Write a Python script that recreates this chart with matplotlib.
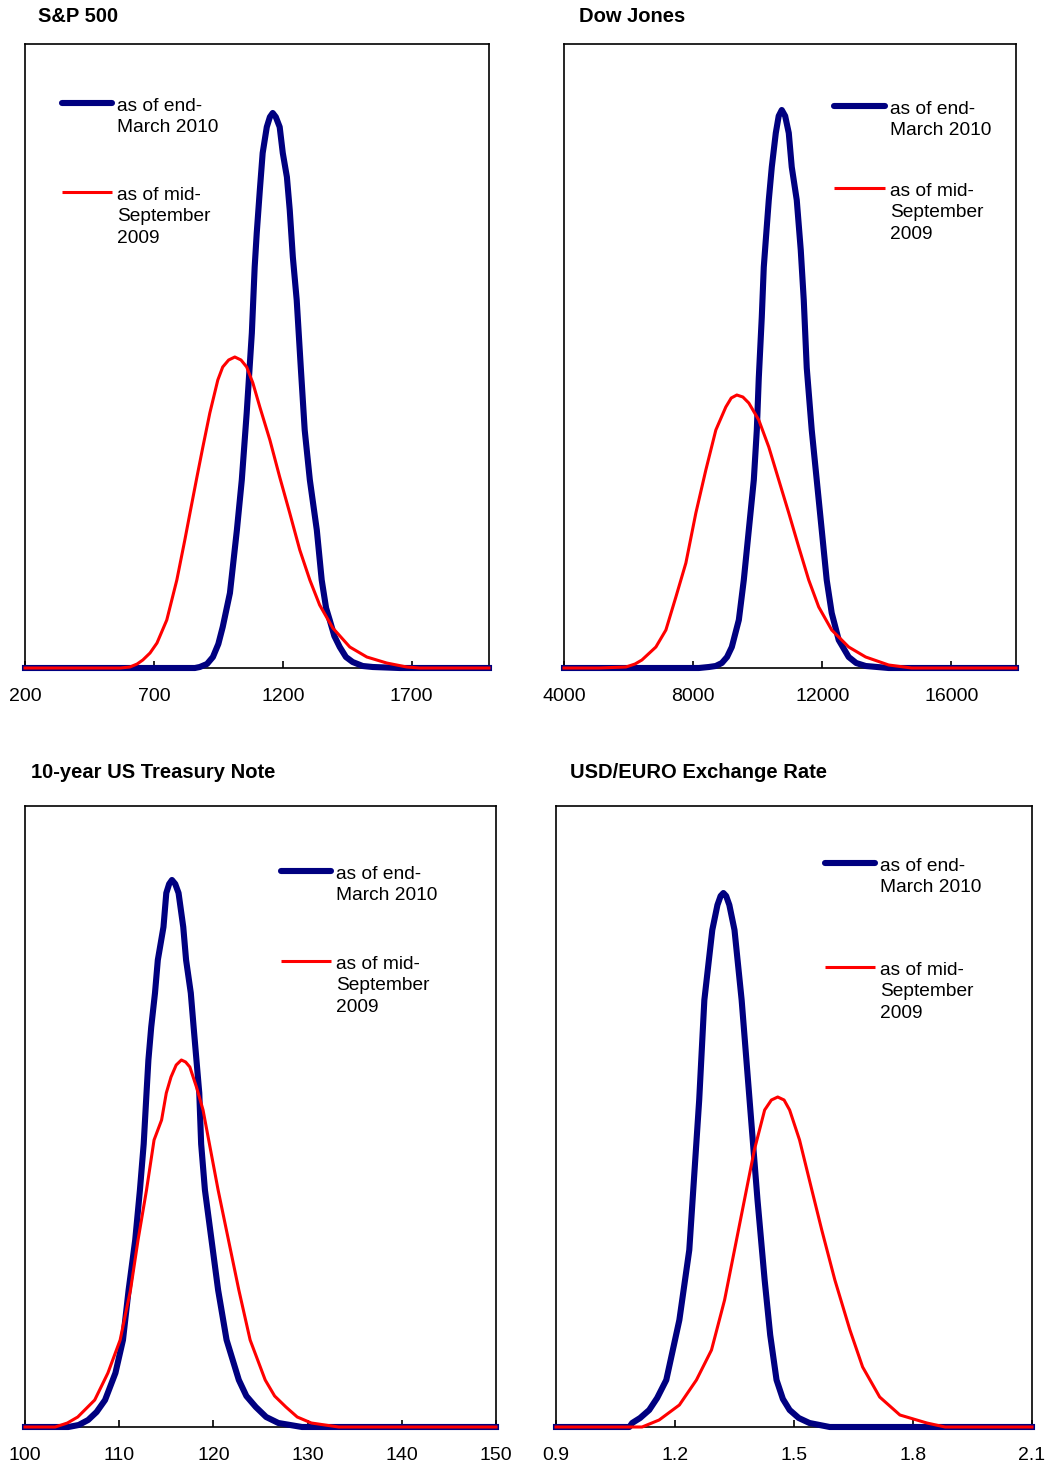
import matplotlib
matplotlib.use("Agg")
import matplotlib.pyplot as plt

plt.rcParams['font.family'] = ['Liberation Sans', 'DejaVu Sans']

# density curves (heights in relative units)
# S&P 500
spx_end_x = [200, 859, 878, 906, 929, 950, 967, 995, 1022, 1041, 1060, 1080, 1091, 1099, 1111,
             1122, 1138, 1150, 1161, 1173, 1188, 1200, 1216, 1227, 1239, 1254, 1270, 1285,
             1305, 1332, 1351, 1368, 1382, 1400, 1421, 1445, 1471, 1510, 1549, 1653, 2000]
spx_end_y = [0, 0, 1, 4, 11, 24, 41, 75, 138, 188, 255, 335, 401, 435, 478,
             515, 541, 551, 555, 551, 541, 515, 491, 458, 411, 368, 300, 238,
             188, 138, 88, 60, 48, 32, 21, 11, 6, 2, 1, 0, 0]
spx_sep_x = [200, 491, 570, 607, 635, 657, 685, 712, 750, 789, 820, 840, 867, 890, 917, 948,
             967, 990, 1014, 1038, 1060, 1084, 1111, 1150, 1188, 1227, 1266, 1305, 1343, 1394,
             1460, 1526, 1603, 1681, 1731, 2000]
spx_sep_y = [0, 0, 0, 1, 4, 8, 15, 25, 48, 88, 128, 155, 191, 221, 255, 288,
             301, 308, 311, 308, 301, 285, 261, 228, 191, 155, 118, 88, 63, 40,
             21, 11, 5, 1, 0, 0]

# Dow Jones
dow_end_x = [4000, 8177, 8486, 8700, 8889, 9050, 9198, 9415, 9569, 9724, 9879, 9972, 10033,
             10126, 10188, 10250, 10343, 10436, 10560, 10650, 10745, 10850, 10962, 11054, 11209,
             11333, 11426, 11519, 11673, 11828, 11983, 12137, 12292, 12509, 12818, 13050, 13344,
             14056, 18000]
dow_end_y = [0, 0, 1, 2, 5, 11, 21, 48, 88, 138, 188, 238, 290,
             351, 401, 428, 468, 501, 535, 552, 558, 552, 535, 501, 468,
             418, 368, 300, 238, 188, 138, 88, 55, 28, 11, 5, 2,
             0, 0]
dow_sep_x = [4000, 5083, 5918, 6200, 6413, 6846, 7156, 7465, 7775, 8084, 8393, 8703, 9012, 9180,
             9353, 9540, 9724, 10033, 10343, 10652, 10962, 11271, 11580, 11890, 12292, 12818,
             13344, 14056, 14767, 18000]
dow_sep_y = [0, 0, 1, 4, 8, 21, 38, 71, 105, 155, 198, 238, 261, 270,
             273, 271, 265, 248, 221, 188, 155, 121, 88, 61, 38, 21,
             11, 3, 0, 0]

# 10-year US Treasury Note
ust_end_x = [100, 104.6, 105.7, 106.7, 107.6, 108.5, 109.6, 110.4, 111.0, 111.7, 112.2, 112.6,
             112.9, 113.1, 113.4, 113.8, 114.1, 114.7, 115.0, 115.3, 115.6, 115.95, 116.3, 116.8,
             117.1, 117.6, 117.9, 118.2, 118.5, 118.7, 119.1, 119.8, 120.5, 121.4, 122.7, 123.5,
             124.5, 125.6, 126.9, 129.4, 150]
ust_end_y = [0, 0, 2, 7, 15, 27, 54, 87, 137, 187, 237, 283,
             334, 367, 400, 434, 467, 500, 534, 543, 547, 543, 534, 500,
             467, 434, 400, 367, 334, 283, 237, 187, 137, 87, 47, 31,
             20, 10, 4, 0, 0]
ust_sep_x = [100, 103.2, 104.5, 105.6, 107.4, 108.8, 110.1, 111.2, 112.0, 112.9, 113.7, 114.5,
             115.0, 115.5, 116.05, 116.6, 117.05, 117.5, 118.2, 118.9, 119.5, 120.5, 121.6, 122.7,
             123.9, 125.5, 126.5, 127.7, 128.9, 130.4, 133.3, 150]
ust_sep_y = [0, 0, 4, 10, 27, 54, 87, 137, 187, 237, 287, 307,
             334, 350, 362, 367, 365, 360, 340, 317, 287, 237, 187, 137,
             87, 47, 31, 20, 10, 4, 0, 0]

# USD/EURO exchange rate
fx_end_x = [0.9, 1.085, 1.092, 1.112, 1.135, 1.155, 1.178, 1.211, 1.236, 1.261, 1.274, 1.294,
            1.307, 1.315, 1.322, 1.329, 1.337, 1.350, 1.368, 1.388, 1.408, 1.426, 1.440, 1.456,
            1.472, 1.489, 1.512, 1.539, 1.590, 2.1]
fx_end_y = [0, 0, 4, 9, 17, 29, 47, 107, 177, 327, 427, 497,
            522, 531, 534, 531, 522, 497, 427, 327, 227, 147, 92, 47,
            28, 17, 9, 4, 0, 0]
fx_sep_x = [0.9, 1.117, 1.160, 1.211, 1.254, 1.292, 1.325, 1.350, 1.375, 1.400, 1.426, 1.443,
            1.459, 1.475, 1.489, 1.514, 1.545, 1.570, 1.603, 1.641, 1.673, 1.716, 1.767, 1.835,
            1.881, 2.1]
fx_sep_y = [0, 0, 7, 22, 47, 77, 127, 177, 227, 277, 317, 327,
            330, 327, 317, 287, 237, 197, 147, 97, 60, 30, 12, 4,
            0, 0]

titles = ["S&P 500", "Dow Jones", "10-year US Treasury Note", "USD/EURO Exchange Rate"]
xlims = [(200, 2000), (4000, 18000), (100, 150), (0.9, 2.1)]
xticks = [[200, 700, 1200, 1700], [4000, 8000, 12000, 16000],
          [100, 110, 120, 130, 140, 150], [0.9, 1.2, 1.5, 1.8, 2.1]]
xticklabels = [["200", "700", "1200", "1700"], ["4000", "8000", "12000", "16000"],
               ["100", "110", "120", "130", "140", "150"], ["0.9", "1.2", "1.5", "1.8", "2.1"]]
end_label = "as of end-\nMarch 2010"
sep_label = "as of mid-\nSeptember\n2009"

BLUE = "#000080"
RED = "#ff0000"
W, H = 1050, 1469

fig = plt.figure(figsize=(10.5, 14.69), dpi=100)

# axes boxes in pixels: left, top, right, bottom
boxes = [(25, 44, 489, 668), (564, 44, 1016, 668), (25, 806, 496, 1427), (556, 806, 1032, 1427)]
title_pos = [(38, 16), (579, 16), (31, 773), (570, 773)]
# legend: handle x0, x1, text x, blue y, red y (pixels)
legends = [(62, 112, 117, 103, 192), (834, 885, 890, 106, 188),
           (281, 331, 336, 871, 961), (825, 875, 880, 863, 967)]
curves = [(spx_end_x, spx_end_y, spx_sep_x, spx_sep_y),
          (dow_end_x, dow_end_y, dow_sep_x, dow_sep_y),
          (ust_end_x, ust_end_y, ust_sep_x, ust_sep_y),
          (fx_end_x, fx_end_y, fx_sep_x, fx_sep_y)]

for i in range(4):
    l, t, r, b = boxes[i]
    ax = fig.add_axes([l / W, 1 - b / H, (r - l) / W, (b - t) / H])
    ex, ey, sx, sy = curves[i]
    ax.plot(ex, ey, color=BLUE, lw=4.4, clip_on=False, solid_joinstyle='round', zorder=3)
    ax.plot(sx, sy, color=RED, lw=2.2, clip_on=False, solid_joinstyle='round', zorder=4)
    ax.set_xlim(*xlims[i])
    ax.set_ylim(0, b - t)
    ax.set_xticks(xticks[i])
    ax.set_xticklabels(xticklabels[i])
    ax.set_yticks([])
    ax.tick_params(axis='x', direction='in', length=5, width=1.2, pad=14.5, labelsize=14)
    for sp in ax.spines.values():
        sp.set_linewidth(1.2)
        sp.set_color('black')

    fig.text(title_pos[i][0] / W, 1 - title_pos[i][1] / H, titles[i],
             fontsize=14.5, fontweight='bold', va='center', ha='left')

    x0, x1, xt, yb, yr = legends[i]
    fig.add_artist(plt.Line2D([x0 / W, x1 / W], [1 - yb / H, 1 - yb / H], color=BLUE,
                              lw=4.4, solid_capstyle='round', transform=fig.transFigure))
    fig.add_artist(plt.Line2D([x0 / W, x1 / W], [1 - yr / H, 1 - yr / H], color=RED,
                              lw=2.2, solid_capstyle='butt', transform=fig.transFigure))
    fig.text(xt / W, 1 - (yb - 5) / H, end_label, fontsize=13.8, va='top',
             ha='left', linespacing=1.34)
    fig.text(xt / W, 1 - (yr - 5) / H, sep_label, fontsize=13.8, va='top',
             ha='left', linespacing=1.34)

fig.savefig("out.png", dpi=100)
